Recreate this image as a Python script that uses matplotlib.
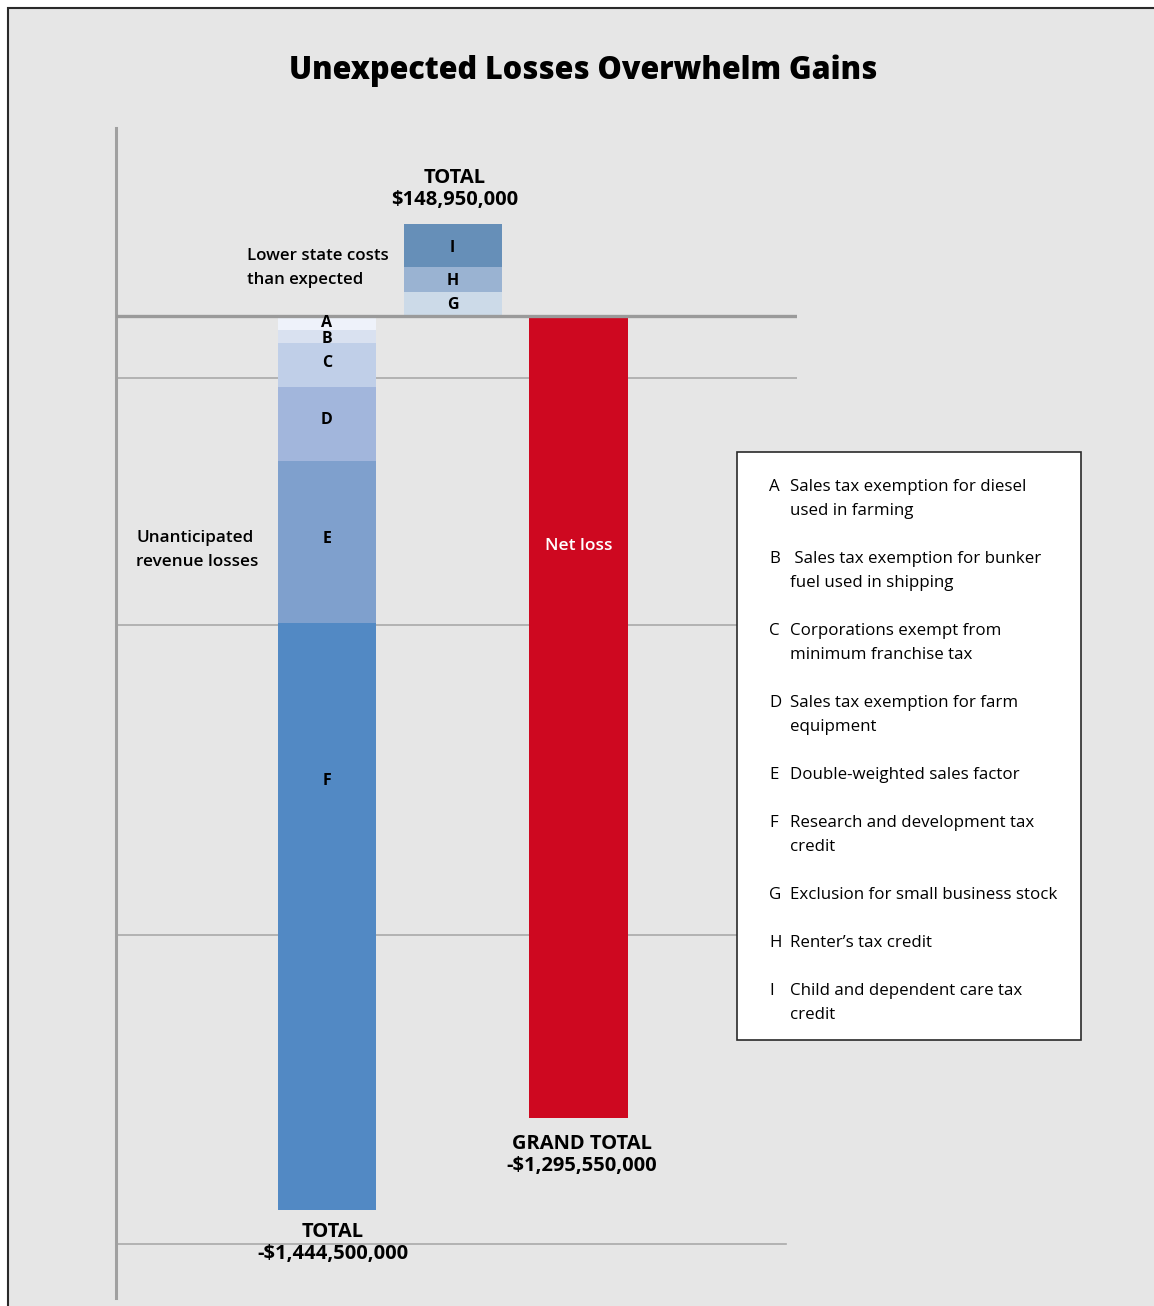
import matplotlib
matplotlib.use('Agg')
import matplotlib.pyplot as plt
from matplotlib.patches import Rectangle

# ---------------- data (millions of dollars) ----------------
loss_labels = ['A', 'B', 'C', 'D', 'E', 'F']
loss_values = [-22.5, -21.0, -71.0, -119.5, -262.0, -948.5]
loss_colors = ['#eef2fa', '#d9e1f0', '#c0cfe8', '#a2b6dc', '#7fa0cd', '#5289c4']
loss_label_frac = [0.5, 0.7, 0.45, 0.45, 0.48, 0.27]

gain_labels = ['G', 'H', 'I']
gain_values = [38.0, 41.0, 69.95]
gain_colors = ['#ccdae8', '#9ab3d2', '#668fb8']

net_color = '#ce0820'
grid_values = [-100, -500, -1000, -1500]

legend_letters = ['A', 'B', 'C', 'D', 'E', 'F', 'G', 'H', 'I']
legend_texts = [
    ['Sales tax exemption for diesel', 'used in farming'],
    [' Sales tax exemption for bunker', 'fuel used in shipping'],
    ['Corporations exempt from', 'minimum franchise tax'],
    ['Sales tax exemption for farm', 'equipment'],
    ['Double-weighted sales factor'],
    ['Research and development tax', 'credit'],
    ['Exclusion for small business stock'],
    ['Renter\u2019s tax credit'],
    ['Child and dependent care tax', 'credit'],
]

title = 'Unexpected Losses Overwhelm Gains'

# ---------------- figure ----------------
W, H = 1154, 1306
FONT = 'Open Sans'
plt.rcParams['font.family'] = [FONT, 'DejaVu Sans']

fig = plt.figure(figsize=(W / 100, H / 100), dpi=100, facecolor='white')

def fx(px):
    return px / W

def fy(py):
    return 1 - (py + 2) / H

fig.add_artist(Rectangle((fx(8), -0.05), 1.1, (1 - 8 / H) + 0.05, transform=fig.transFigure,
                         facecolor='#e6e6e6', edgecolor='#2a2a2a', lw=1.5, zorder=0))

ax = fig.add_axes([fx(116), 1 - 1298 / H, (797 - 116) / W, (1298 - 128) / H])
ax.patch.set_alpha(0)
ax.set_xlim(-1.678, 3.738)
ax.set_ylim(-1586.7, 303.8)
for s in ['top', 'right', 'bottom']:
    ax.spines[s].set_visible(False)
ax.spines['left'].set_color('#a0a0a0')
ax.spines['left'].set_linewidth(2.2)
ax.set_xticks([])
ax.set_yticks([])

# gridlines
for v in grid_values:
    xmax = 0.984 if v == grid_values[-1] else 1.0
    ax.axhline(v, xmin=0, xmax=xmax, color='#a9a9a9', lw=1.2, zorder=1)
ax.axhline(0, color='#9a9a9a', lw=2.4, zorder=4)

bw = 0.78
# losses stack
cum = 0.0
for lab, v, c, f in zip(loss_labels, loss_values, loss_colors, loss_label_frac):
    ax.bar(0, v, bottom=cum, width=bw, color=c, linewidth=0, zorder=2)
    ax.text(0, cum + v * f, lab, ha='center', va='center', fontsize=11.5,
            fontweight='bold', color='black', zorder=5)
    cum += v
loss_total = cum

# gains stack
cum = 0.0
for lab, v, c in zip(gain_labels, gain_values, gain_colors):
    ax.bar(1, v, bottom=cum, width=bw, color=c, linewidth=0, zorder=2)
    ax.text(1, cum + v * 0.45, lab, ha='center', va='center', fontsize=11.5,
            fontweight='bold', color='black', zorder=5)
    cum += v
gain_total = cum

net = loss_total + gain_total
ax.bar(2, net, bottom=0, width=bw, color=net_color, linewidth=0, zorder=2)
ax.text(2, -372, 'Net loss', ha='center', va='center', fontsize=12.5,
        fontweight='semibold', color='white', zorder=5)

def money(v):
    s = '${:,.0f}'.format(abs(v) * 1e6)
    return ('-' if v < 0 else '') + s

# labels (pixel placed)
def lines(x, ys, texts, ha='center', weight='bold', size=14.5):
    for y, t in zip(ys, texts):
        fig.text(fx(x), fy(y), t, ha=ha, va='center', fontsize=size,
                 fontweight=weight, color='black', zorder=6)

lines(455, [176, 198], ['TOTAL', money(gain_total)])
lines(582, [1142, 1164], ['GRAND TOTAL', money(net)])
lines(333, [1230, 1252], ['TOTAL', money(loss_total)])
lines(247, [254, 278], ['Lower state costs', 'than expected'], ha='left', weight='semibold', size=12.2)
lines(136, [536, 560], ['Unanticipated', 'revenue losses'], ha='left', weight='semibold', size=12.3)

fig.text(fx(583), fy(69), title, ha='center', va='center', fontsize=22,
         fontweight='heavy', color='black')

# legend box
fig.add_artist(Rectangle((fx(737), 1 - 1040 / H), (1081 - 737) / W, (1040 - 452) / H,
                         transform=fig.transFigure, facecolor='white',
                         edgecolor='#2a2a2a', lw=1.2, zorder=5))
y = 485
for letter, tl in zip(legend_letters, legend_texts):
    fig.text(fx(769), fy(y), letter, ha='left', va='center', fontsize=12.2, zorder=6)
    for i, t in enumerate(tl):
        fig.text(fx(790), fy(y + 24 * i), t, ha='left', va='center', fontsize=12.2, zorder=6)
    y += 24 * len(tl) + 24

fig.savefig('out.png', dpi=100, facecolor='white')
